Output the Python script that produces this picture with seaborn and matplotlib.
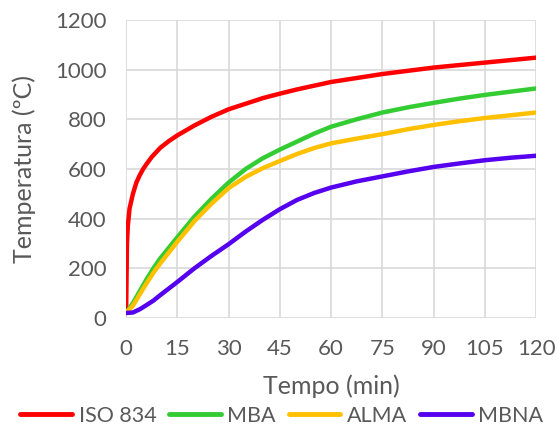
import pandas as pd
import matplotlib.pyplot as plt
import seaborn as sns

# ISO 834 standard curve
t_iso = [0, 0.25, 0.5, 1, 2, 3, 4, 5, 6, 7.5, 10, 12.5, 15, 20, 25, 30, 40, 45, 50, 60, 75, 90, 105, 120]
temp_iso = [20, 300, 370, 440, 500, 545, 575, 600, 620, 648, 685, 712, 735, 775, 810, 840, 885, 903, 920, 950, 982, 1008, 1028, 1048]

# measured curves
t_meas = [0, 2, 4, 6, 8, 10, 15, 20, 25, 30, 35, 40, 45, 50, 55, 60, 67.5, 75, 82.5, 90, 97.5, 105, 112.5, 120]
temp_mba = [20, 60, 108, 156, 200, 240, 325, 408, 480, 545, 600, 643, 678, 710, 742, 770, 800, 827, 848, 866, 883, 898, 911, 924]
temp_alma = [20, 50, 95, 140, 182, 220, 307, 390, 460, 523, 568, 603, 632, 660, 684, 703, 722, 740, 760, 777, 792, 805, 816, 827]
temp_mbna = [20, 22, 35, 52, 70, 92, 145, 200, 250, 297, 348, 395, 438, 475, 503, 525, 550, 570, 590, 608, 622, 635, 645, 653]

series = ["ISO 834", "MBA", "ALMA", "MBNA"]
colors = ["#FF0000", "#33CC33", "#FFC000", "#5500EE"]

df = pd.concat([
    pd.DataFrame({"Tempo": t_iso, "Temp": temp_iso, "Serie": "ISO 834"}),
    pd.DataFrame({"Tempo": t_meas, "Temp": temp_mba, "Serie": "MBA"}),
    pd.DataFrame({"Tempo": t_meas, "Temp": temp_alma, "Serie": "ALMA"}),
    pd.DataFrame({"Tempo": t_meas, "Temp": temp_mbna, "Serie": "MBNA"}),
])

sns.set_style("white")
plt.rcParams["font.family"] = ["Lato", "DejaVu Sans"]
grey = "#595959"

fig = plt.figure(figsize=(5.58, 4.32), dpi=100)
ax = fig.add_axes([0.226, 0.264, 0.735, 0.69])

sns.lineplot(data=df, x="Tempo", y="Temp", hue="Serie", hue_order=series,
             palette=colors, linewidth=3.2, sort=False, ax=ax,
             solid_capstyle="round", solid_joinstyle="round")

ax.set_xlim(0, 120)
ax.set_ylim(0, 1200)
ax.set_xticks(range(0, 121, 15))
ax.set_yticks(range(0, 1201, 200))
ax.grid(True, color="#D9D9D9", linewidth=1.2)
ax.set_axisbelow(True)
for s in ax.spines.values():
    s.set_visible(False)
ax.tick_params(axis="both", length=0, labelsize=16, labelcolor=grey)
ax.tick_params(axis="x", pad=15)
ax.tick_params(axis="y", pad=14)

ax.set_xlabel("Tempo (min)", fontsize=18, color=grey, labelpad=11)
ax.set_ylabel("Temperatura (ºC)", fontsize=18, color=grey, labelpad=14)

ax.legend_.remove()
handles, labels = ax.get_legend_handles_labels()
leg = fig.legend(handles, labels, loc="lower center", bbox_to_anchor=(0.505, -0.03),
                 ncol=4, frameon=False, fontsize=15.5, handlelength=2.4,
                 handletextpad=0.3, columnspacing=0.6)
for txt in leg.get_texts():
    txt.set_color(grey)
for line in leg.get_lines():
    line.set_linewidth(3.5)

plt.savefig("out.png", dpi=100)
